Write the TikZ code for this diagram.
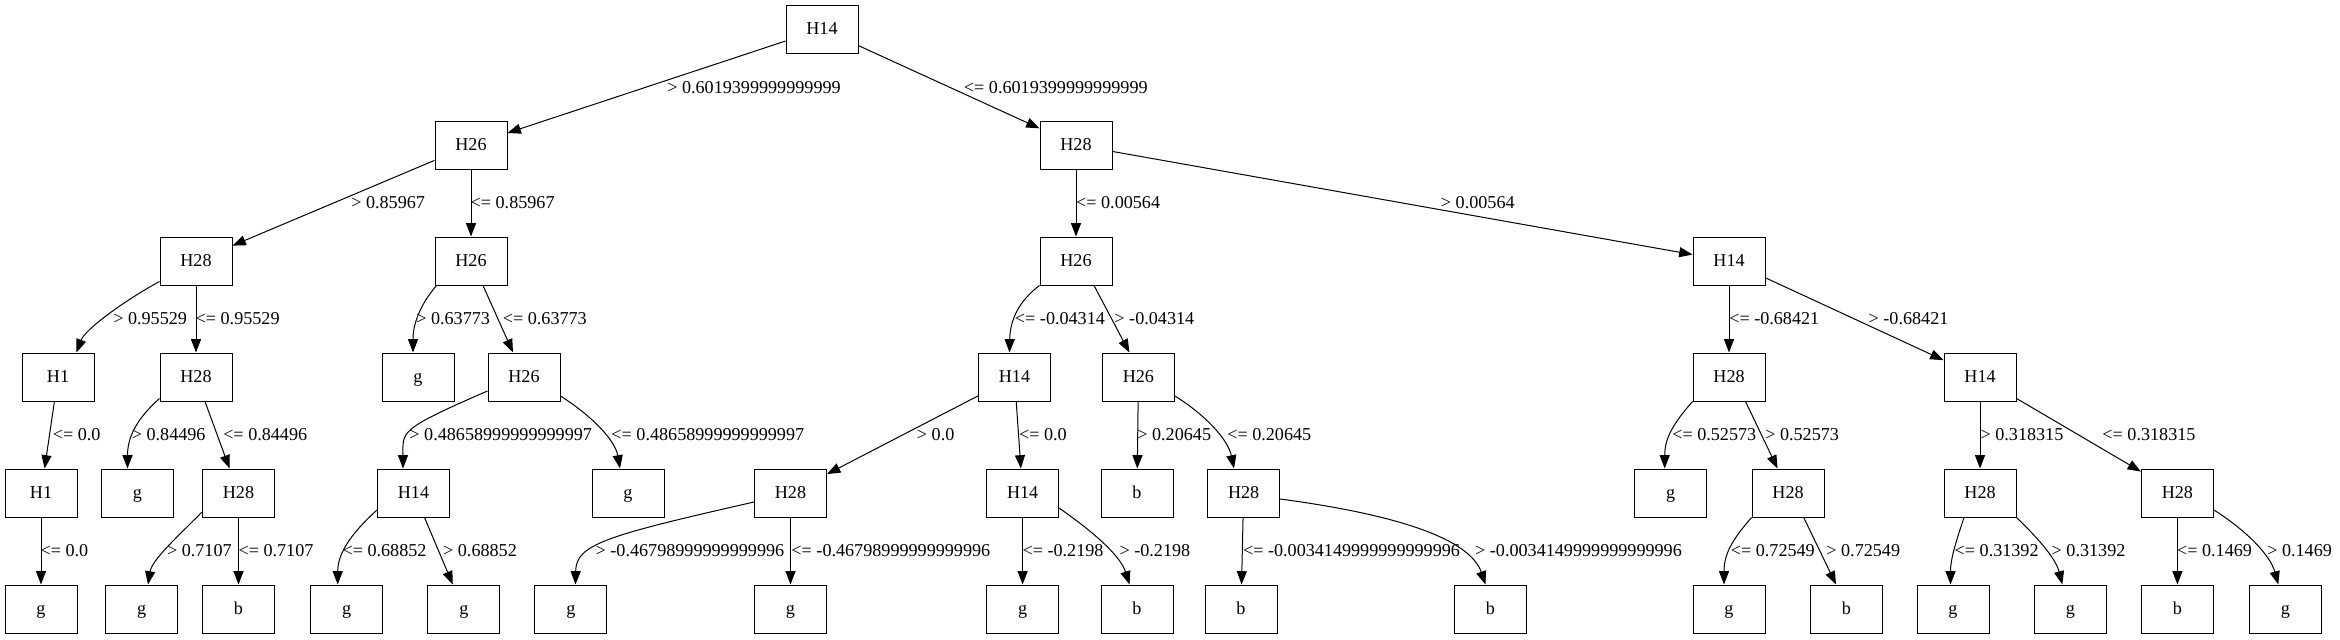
\documentclass[tikz,border=0pt]{standalone}
\usepackage{fontspec}
\setmainfont{Liberation Serif}
\usetikzlibrary{arrows.meta,calc}
\tikzset{
  box/.style={draw, line width=0.75pt, minimum width=54pt, minimum height=36pt, inner sep=0pt,
    text height=10pt, text depth=1.6pt, font=\fontsize{13.6pt}{17pt}\selectfont},
  conn/.style={draw, line width=0.75pt, -{Triangle[length=10pt,width=7.5pt]}},
  lab/.style={anchor=base west, inner sep=0pt, font=\fontsize{13.6pt}{17pt}\selectfont}
}
\begin{document}
\begin{tikzpicture}[x=0.75pt,y=-0.75pt]
\useasboundingbox (0,0) rectangle (2340,639);
% row 1
\node[box] (n0) at (822,29) {H14};
% row 2
\node[box] (n1) at (471,145) {H26};
\node[box] (n2) at (1076,145) {H28};
% row 3
\node[box] (n3) at (196,261) {H28};
\node[box] (n4) at (471,261) {H26};
\node[box] (n5) at (1076,261) {H26};
\node[box] (n6) at (1729,261) {H14};
% row 4
\node[box] (n7) at (58,377) {H1};
\node[box] (n8) at (196,377) {H28};
\node[box] (n9) at (418,377) {g};
\node[box] (n10) at (524,377) {H26};
\node[box] (n11) at (1014.5,377) {H14};
\node[box] (n12) at (1138.4,377) {H26};
\node[box] (n13) at (1729,377) {H28};
\node[box] (n14) at (1980,377) {H14};
% row 5
\node[box] (n15) at (41,493) {H1};
\node[box] (n16) at (137.5,493) {g};
\node[box] (n17) at (238.5,493) {H28};
\node[box] (n18) at (413.5,493) {H14};
\node[box] (n19) at (628,493) {g};
\node[box] (n20) at (790.5,493) {H28};
\node[box] (n21) at (1022.6,493) {H14};
\node[box] (n22) at (1137,493) {b};
\node[box] (n23) at (1243.6,493) {H28};
\node[box] (n24) at (1670.7,493) {g};
\node[box] (n25) at (1788,493) {H28};
\node[box] (n26) at (1980,493) {H28};
\node[box] (n27) at (2177.4,493) {H28};
% row 6
\node[box] (n28) at (41,609) {g};
\node[box] (n29) at (141.6,609) {g};
\node[box] (n30) at (238.5,609) {b};
\node[box] (n31) at (346.7,609) {g};
\node[box] (n32) at (463.8,609) {g};
\node[box] (n33) at (570.9,609) {g};
\node[box] (n34) at (790.5,609) {g};
\node[box] (n35) at (1022.6,609) {g};
\node[box] (n36) at (1137,609) {b};
\node[box] (n37) at (1241,609) {b};
\node[box] (n38) at (1490.5,609) {b};
\node[box] (n39) at (1729,609) {g};
\node[box] (n40) at (1846.5,609) {b};
\node[box] (n41) at (1953,609) {g};
\node[box] (n42) at (2070.3,609) {g};
\node[box] (n43) at (2177.4,609) {b};
\node[box] (n44) at (2285.3,609) {g};

% edges
\draw[conn] (n0) -- (n1);
\draw[conn] (n0) -- (n2);
\draw[conn] (n1) -- (n3);
\draw[conn] (n1) -- (n4);
\draw[conn] (n2) -- (n5);
\draw[conn] (n2) -- (n6);
\draw[conn] ($(n3.south west)+(0,-4)$) .. controls +(-35,19) and +(8.5,-23) .. ($(n7.north)+(18.5,0)$);
\draw[conn] (n3) -- (n8);
\draw[conn] ($(n4.south west)+(2,0)$) .. controls +(-17,20) and +(0,-28) .. ($(n9.north)+(-5,0)$);
\draw[conn] ($(n4.south)+(12,0)$) -- ($(n10.north)+(-11,0)$);
\draw[conn] ($(n5.south west)$) .. controls +(-20,15) and +(0.5,-33) .. ($(n11.north)+(-5,0)$);
\draw[conn] ($(n5.south)+(18,0)$) -- ($(n12.north)+(-9,0)$);
\draw[conn] (n6) -- (n13);
\draw[conn] (n6) -- (n14);
\draw[conn] (n7) -- (n15);
\draw[conn] ($(n8.south west)+(0,-3)$) .. controls +(-25,22) and +(0,-29) .. ($(n16.north)+(-10,0)$);
\draw[conn] (n8) -- (n17);
\draw[conn] ($(n10.west)+(0,14)$) .. controls +(-90,39) and +(0,-37) .. ($(n18.north)+(-10.5,0)$);
\draw[conn] ($(n10.east)+(0,19)$) .. controls +(30,19) and +(-5,-29) .. ($(n19.north)+(-8,0)$);
\draw[conn] (n11) -- (n20);
\draw[conn] (n11) -- (n21);
\draw[conn] (n12) -- (n22);
\draw[conn] ($(n12.east)+(0,19)$) .. controls +(30.6,19) and +(-6,-29) .. ($(n23.north)+(-9.6,0)$);
\draw[conn] ($(n13.south west)$) .. controls +(-21,24) and +(0,-29) .. ($(n24.north)+(-6,0)$);
\draw[conn] ($(n13.south)+(16.5,0)$) -- ($(n25.north)+(-10.5,0)$);
\draw[conn] (n14) -- (n26);
\draw[conn] (n14) -- (n27);
\draw[conn] (n15) -- (n28);
\draw[conn] ($(n17.west)+(0,19)$) .. controls +(-22.6,23) and +(4,-25) .. ($(n29.north)+(6.4,0)$);
\draw[conn] (n17) -- (n30);
\draw[conn] ($(n18.west)+(0,17)$) .. controls +(-27.6,25) and +(0,-30) .. ($(n31.north)+(-9,0)$);
\draw[conn] ($(n18.south)+(11,0)$) -- ($(n32.north)+(-11,0)$);
\draw[conn] ($(n20.west)+(0,9)$) .. controls +(-149.6,34) and +(0.5,-40) .. ($(n33.north)+(4.6,0)$);
\draw[conn] (n20) -- (n34);
\draw[conn] (n21) -- (n35);
\draw[conn] ($(n21.east)+(0,15)$) .. controls +(31.4,22) and +(-9.5,-30) .. ($(n36.north)+(-7.5,0)$);
\draw[conn] (n23) -- (n37);
\draw[conn] ($(n23.east)+(0,6)$) .. controls +(120,16) and +(-15.5,-45) .. ($(n38.north)+(-5,0)$);
\draw[conn] ($(n25.south west)$) .. controls +(-20,23) and +(0,-30) .. ($(n39.north)+(-5,0)$);
\draw[conn] ($(n25.south)+(15.7,0)$) -- ($(n40.north)+(-10.5,0)$);
\draw[conn] ($(n26.south)+(-16,0)$) .. controls +(-9,27) and +(0,-25) .. ($(n41.north)+(-2.5,0)$);
\draw[conn] ($(n26.south east)$) .. controls +(24,23) and +(-6.3,-25) .. ($(n42.north)+(-8,0)$);
\draw[conn] (n27) -- (n43);
\draw[conn] ($(n27.east)+(0,17)$) .. controls +(31.6,20) and +(-8.3,-30) .. ($(n44.north)+(-7,0)$);

% labels
\node[lab] (l1) at (667,93.3) {> 0.6019399999999999};
\node[lab] (l2) at (963.7,93.3) {<= 0.6019399999999999};
\node[lab] (l3) at (351,208.3) {> 0.85967};
\node[lab] (l4) at (470.4,208.3) {<= 0.85967};
\node[lab] (l5) at (1075.9,208.3) {<= 0.00564};
\node[lab] (l6) at (1440.7,208.3) {> 0.00564};
\node[lab] (l7) at (113,324.3) {> 0.95529};
\node[lab] (l8) at (195.4,324.3) {<= 0.95529};
\node[lab] (l9) at (416,324.3) {> 0.63773};
\node[lab] (l10) at (502.6,324.3) {<= 0.63773};
\node[lab] (l11) at (1014.7,324.3) {<= -0.04314};
\node[lab] (l12) at (1114.2,324.3) {> -0.04314};
\node[lab] (l13) at (1729,324.3) {<= -0.68421};
\node[lab] (l14) at (1868.4,324.3) {> -0.68421};
\node[lab] (l15) at (52.6,440.3) {<= 0.0};
\node[lab] (l16) at (131.6,440.3) {> 0.84496};
\node[lab] (l17) at (223,440.3) {<= 0.84496};
\node[lab] (l18) at (409.2,440.3) {> 0.48658999999999997};
\node[lab] (l19) at (611.2,440.3) {<= 0.48658999999999997};
\node[lab] (l20) at (916.7,440.3) {> 0.0};
\node[lab] (l21) at (1018.8,440.3) {<= 0.0};
\node[lab] (l22) at (1137.1,440.3) {> 0.20645};
\node[lab] (l23) at (1227,440.3) {<= 0.20645};
\node[lab] (l24) at (1672,440.3) {<= 0.52573};
\node[lab] (l25) at (1765,440.3) {> 0.52573};
\node[lab] (l26) at (1980.3,440.3) {> 0.318315};
\node[lab] (l27) at (2102.2,440.3) {<= 0.318315};
\node[lab] (l28) at (40.3,556.3) {<= 0.0};
\node[lab] (l29) at (166.8,556.3) {> 0.7107};
\node[lab] (l30) at (238.3,556.3) {<= 0.7107};
\node[lab] (l31) at (342.3,556.3) {<= 0.68852};
\node[lab] (l32) at (442.9,556.3) {> 0.68852};
\node[lab] (l33) at (595.4,556.3) {> -0.46798999999999996};
\node[lab] (l34) at (791.2,556.3) {<= -0.46798999999999996};
\node[lab] (l35) at (1022.3,556.3) {<= -0.2198};
\node[lab] (l36) at (1119.3,556.3) {> -0.2198};
\node[lab] (l37) at (1242.8,556.3) {<= -0.0034149999999999996};
\node[lab] (l38) at (1474.9,556.3) {> -0.0034149999999999996};
\node[lab] (l39) at (1730.6,556.3) {<= 0.72549};
\node[lab] (l40) at (1826.1,556.3) {> 0.72549};
\node[lab] (l41) at (1954.4,556.3) {<= 0.31392};
\node[lab] (l42) at (2051.4,556.3) {> 0.31392};
\node[lab] (l43) at (2176.8,556.3) {<= 0.1469};
\node[lab] (l44) at (2267,556.3) {> 0.1469};
\end{tikzpicture}
\end{document}
